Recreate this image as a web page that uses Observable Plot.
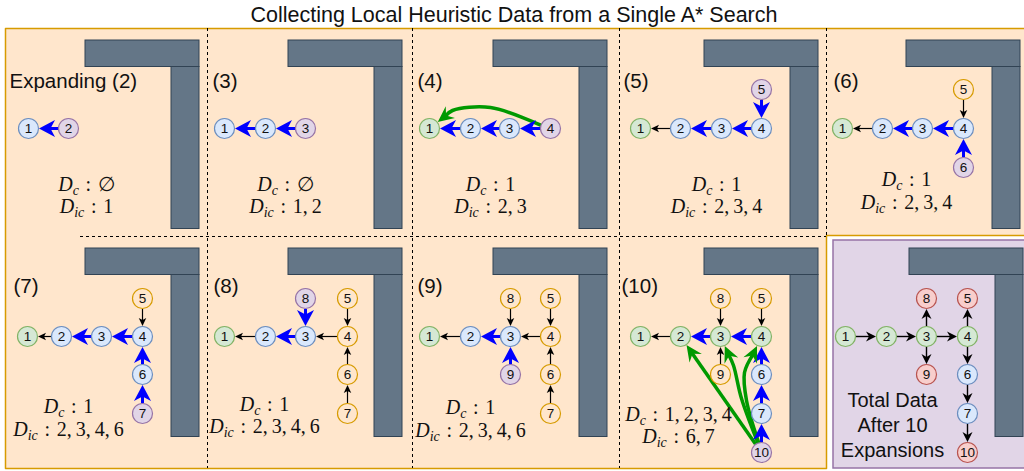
<!DOCTYPE html>
<html><head><meta charset="utf-8">
<script src="https://cdn.jsdelivr.net/npm/d3@7"></script>
<script src="https://cdn.jsdelivr.net/npm/@observablehq/plot@0.6"></script>
<style>
body{margin:0;background:#fff;}
#title{height:26px;font-size:21.5px;font-family:"Liberation Sans",Arial,sans-serif;text-align:center;line-height:30px;white-space:nowrap;color:#111;padding-left:4px;box-sizing:border-box;width:1024px;}
#chart svg{display:block}
</style></head><body>
<div id="title">Collecting Local Heuristic Data from a Single A* Search</div>
<div id="chart"></div>
<script>
// ---------- data ----------
const panelLabels = ["Expanding (2)","(3)","(4)","(5)","(6)","(7)","(8)","(9)","(10)"];
const dcValues  = ["∅","∅","1","1","1","1","1","1","1, 2, 3, 4"];
const dicValues = ["1","1, 2","2, 3","2, 3, 4","2, 3, 4","2, 3, 4, 6","2, 3, 4, 6","2, 3, 4, 6","6, 7"];
const summaryText = "Total Data\nAfter 10\nExpansions";
// node state per panel: b = blue, g = green, p = purple (expanding), o = orange, r = red
const nodeStates = [
  {1:"b",2:"p"},
  {1:"b",2:"b",3:"p"},
  {1:"g",2:"b",3:"b",4:"p"},
  {1:"g",2:"b",3:"b",4:"b",5:"p"},
  {1:"g",2:"b",3:"b",4:"b",5:"o",6:"p"},
  {1:"g",2:"b",3:"b",4:"b",5:"o",6:"b",7:"p"},
  {1:"g",2:"b",3:"b",4:"o",5:"o",6:"o",7:"o",8:"p"},
  {1:"g",2:"b",3:"b",4:"o",5:"o",6:"o",7:"o",8:"o",9:"p"},
  {1:"g",2:"g",3:"g",4:"g",5:"o",6:"b",7:"b",8:"o",9:"o",10:"p"},
  {1:"g",2:"g",3:"g",4:"g",5:"r",6:"b",7:"b",8:"r",9:"r",10:"r"}
];
// edges per panel: [from, to, kind]  b = blue thick, k = black thin, K = black, g = green
const panelEdges = [
  [[2,1,"b"]],
  [[2,1,"b"],[3,2,"b"]],
  [[2,1,"b"],[3,2,"b"],[4,3,"b"]],
  [[2,1,"k"],[3,2,"b"],[4,3,"b"],[5,4,"b"]],
  [[2,1,"k"],[3,2,"b"],[4,3,"b"],[5,4,"k"],[6,4,"b"]],
  [[2,1,"k"],[3,2,"b"],[4,3,"b"],[5,4,"k"],[6,4,"b"],[7,6,"b"]],
  [[2,1,"k"],[3,2,"b"],[4,3,"k"],[5,4,"k"],[6,4,"k"],[7,6,"k"],[8,3,"b"]],
  [[2,1,"k"],[3,2,"b"],[4,3,"k"],[5,4,"k"],[6,4,"k"],[7,6,"k"],[8,3,"k"],[9,3,"b"]],
  [[2,1,"k"],[3,2,"b"],[4,3,"b"],[5,4,"k"],[6,4,"b"],[7,6,"b"],[10,7,"b"],[8,3,"k"],[9,3,"k"],[10,2,"g"]],
  [[1,2,"K"],[2,3,"K"],[3,4,"K"],[3,8,"K"],[3,9,"K"],[4,5,"K"],[4,6,"K"],[6,7,"K"],[7,10,"K"]]
];
// curved green edges (panel, from, to, via points)
const greenCurves = [
  {panel:2, from:4, to:1, via:[[490,107],[452,110]]},
  {panel:8, from:10, to:3, via:[[741,398],[733,365]]},
  {panel:8, from:10, to:4, via:[[746,400],[744,372]]}
];

// ---------- layout ----------
const colX = [[28,68],[224,265,305],[429,470,509,550],[640,680,721,761],[842,882,922,963],
              [27,61,101,142],[224,265,305,347],[429,470,510,550],[640,680,720,761],[845,886,926,967]];
const rowY = [{"-1":89,"0":128,"1":167},{"-1":298,"0":336,"1":374,"2":413,"3":452}];
const nodeGrid = {1:[0,0],2:[1,0],3:[2,0],4:[3,0],5:[3,-1],6:[3,1],7:[3,2],8:[2,-1],9:[2,1],10:[3,3]};
const obstacleX = [85,288,493,704,906,85,288,493,704,909];
const obstacleTop = [40,248];
const labelPos = [[9,80.5],[212,80.5],[417,80.5],[623,80.5],[833,80.5],[13,286],[213,286],[417,286],[621,286]];
// math block: centre x, baseline of first line
const mathPos = [[86,190],[285,190],[490,190],[716,190],[906,185.5],
                 [68,412.5],[264,410],[470,413.5],[678,420]];
const summaryPos = [892,423];
const bgFills = [{x1:5,x2:826,y1:28,y2:468},{x1:826,x2:1030,y1:28,y2:235}];
const bgOutline = [[5,28],[1030,28],[1030,235],[826,235],[826,468],[5,468],[5,28]];
const summaryBox = [{x1:833,x2:1030,y1:240,y2:468}];
const vDividers = [{x:207,y1:28,y2:468},{x:412,y1:28,y2:468},{x:619,y1:28,y2:468},{x:826,y1:28,y2:235}];
const hDividers = [{y:236,x1:80,x2:826}];

const nodeFill = {b:"#dae8fc",g:"#d5e8d4",p:"#e1d5e7",o:"#ffe6cc",r:"#f8cecc"};
const nodeStroke = {b:"#6c8ebf",g:"#82b366",p:"#9673a6",o:"#d79b00",r:"#b85450"};
const arrowStyle = {
  b:{color:"#0000ff", width:3,   L:16, W:17, N:11.5},
  k:{color:"#000000", width:1.2, L:8,  W:7.5, N:6},
  K:{color:"#000000", width:1.4, L:10, W:10, N:7},
  g:{color:"#009900", width:3.5, L:16, W:15, N:10.5}
};
const R = 10.5;
const MATH_FS = 20, MATH_LH = 1.15;
const headSymbol = ({L,W,N}) => ({draw(ctx){ctx.moveTo(0,0);ctx.lineTo(-L,-W/2);ctx.lineTo(-N,0);ctx.lineTo(-L,W/2);ctx.closePath();}});

// ---------- derived tables ----------
const nodes = [];
nodeStates.forEach((st,p)=>{
  for (const [id,s] of Object.entries(st)) {
    const [c,r] = nodeGrid[id];
    nodes.push({panel:p, id:+id, state:s, x:colX[p][c], y:rowY[p<5?0:1][String(r)]});
  }
});
const nodeAt = (p,id)=>nodes.find(n=>n.panel===p && n.id===id);
const shafts = [], heads = [], curves = [];
panelEdges.forEach((list,p)=>list.forEach(([a,b,t])=>{
  const s=nodeAt(p,a), e=nodeAt(p,b), st=arrowStyle[t];
  const dx=e.x-s.x, dy=e.y-s.y, len=Math.hypot(dx,dy), ux=dx/len, uy=dy/len;
  const tx=e.x-ux*R, ty=e.y-uy*R;
  shafts.push({t, x1:s.x+ux*R, y1:s.y+uy*R, x2:tx-ux*(st.N-1), y2:ty-uy*(st.N-1)});
  heads.push({t, x:tx, y:ty, angle:Math.atan2(uy,ux)*180/Math.PI});
}));
greenCurves.forEach((c,k)=>{
  const s=nodeAt(c.panel,c.from), e=nodeAt(c.panel,c.to), st=arrowStyle.g;
  const f=c.via[0], l=c.via[c.via.length-1];
  let dx=f[0]-s.x, dy=f[1]-s.y, len=Math.hypot(dx,dy);
  const start=[s.x+dx/len*R, s.y+dy/len*R];
  dx=e.x-l[0]; dy=e.y-l[1]; len=Math.hypot(dx,dy);
  const ux=dx/len, uy=dy/len, tip=[e.x-ux*R, e.y-uy*R];
  [start, ...c.via, [tip[0]-ux*(st.N-1), tip[1]-uy*(st.N-1)]].forEach(q=>curves.push({k, x:q[0], y:q[1]}));
  heads.push({t:"g", x:tip[0], y:tip[1], angle:Math.atan2(uy,ux)*180/Math.PI});
});
const obstacles = [];
obstacleX.forEach((ox,p)=>{
  const top = obstacleTop[p<5?0:1];
  obstacles.push({x1:ox, x2:ox+114, y1:top, y2:top+26.5});
  obstacles.push({x1:ox+86, x2:ox+114, y1:top+26.5, y2:top+188.5});
});
const labels = panelLabels.map((s,i)=>({text:s, x:labelPos[i][0], y:labelPos[i][1]}));
// two-line blocks; with middle line anchor the first baseline sits 0.18·lineHeight em above y
const mathBlocks = dcValues.map((v,i)=>({
  text:`D_c : ${v}\nD_ic : ${dicValues[i]}`,
  x:mathPos[i][0],
  y:mathPos[i][1] + 0.18*MATH_LH*MATH_FS
}));

const shaftMarks = Object.keys(arrowStyle).map(t=>Plot.link(shafts.filter(d=>d.t===t),
  {x1:"x1",y1:"y1",x2:"x2",y2:"y2",stroke:arrowStyle[t].color,strokeWidth:arrowStyle[t].width}));
const headMarks = Object.keys(arrowStyle).map(t=>Plot.dot(heads.filter(d=>d.t===t),
  {x:"x",y:"y",rotate:"angle",r:5,symbol:headSymbol(arrowStyle[t]),fill:arrowStyle[t].color,stroke:"none"}));

const svg = Plot.plot({
  width:1024, height:445, margin:0,
  x:{domain:[0,1024], range:[0,1024], axis:null},
  y:{domain:[26,471], range:[0,445], axis:null},
  color:{type:"identity"},
  style:{background:"transparent", overflow:"visible"},
  marks:[
    Plot.rect(bgFills,{x1:"x1",x2:"x2",y1:"y1",y2:"y2",fill:"#ffe6cc"}),
    Plot.line(bgOutline,{x:d=>d[0],y:d=>d[1],stroke:"#d79b00",strokeWidth:1.5}),
    Plot.rect(summaryBox,{x1:"x1",x2:"x2",y1:"y1",y2:"y2",fill:"#e1d5e7",stroke:"#9673a6",strokeWidth:1.5}),
    Plot.ruleX(vDividers,{x:"x",y1:"y1",y2:"y2",stroke:"#000",strokeDasharray:"3,3"}),
    Plot.ruleY(hDividers,{y:"y",x1:"x1",x2:"x2",stroke:"#000",strokeDasharray:"3,3"}),
    Plot.rect(obstacles,{x1:"x1",x2:"x2",y1:"y1",y2:"y2",fill:"#647687",stroke:"#314354",strokeWidth:1}),
    ...shaftMarks,
    Plot.line(curves,{x:"x",y:"y",z:"k",curve:"catmull-rom",stroke:arrowStyle.g.color,strokeWidth:arrowStyle.g.width}),
    ...headMarks,
    Plot.dot(nodes,{x:"x",y:"y",r:10,fill:d=>nodeFill[d.state],stroke:d=>nodeStroke[d.state],strokeWidth:1.2}),
    Plot.text(nodes,{x:"x",y:"y",text:d=>String(d.id),fontSize:13.5,fontFamily:"Liberation Sans",fill:"#111"}),
    Plot.text(labels,{x:"x",y:"y",text:"text",textAnchor:"start",fontSize:20.5,fontFamily:"Liberation Sans",fill:"#111"}),
    Plot.text([summaryText],{x:()=>summaryPos[0],y:()=>summaryPos[1],text:d=>d,fontSize:20,lineHeight:1.25,fontFamily:"Liberation Sans",fill:"#111"}),
    Plot.text(mathBlocks,{x:"x",y:"y",text:"text",fontSize:MATH_FS,lineHeight:MATH_LH,fontFamily:"Liberation Serif",fill:"#111"})
  ]
});
// typeset "D_c : …" lines as D with an italic subscript
d3.select(svg).selectAll("text tspan").each(function(){
  const m = /^D_(\w+) : (.*)$/.exec(this.textContent);
  if (!m) return;
  const el = d3.select(this); el.text(null);
  el.append("tspan").attr("font-style","italic").text("D");
  el.append("tspan").attr("font-style","italic").attr("font-size","14").attr("dy","4").text(m[1]);
  el.append("tspan").attr("dy","-4").text("\u2004:\u2004" + m[2].replace(/, /g, ",\u2009"));
});
document.getElementById("chart").appendChild(svg);
</script></body></html>
